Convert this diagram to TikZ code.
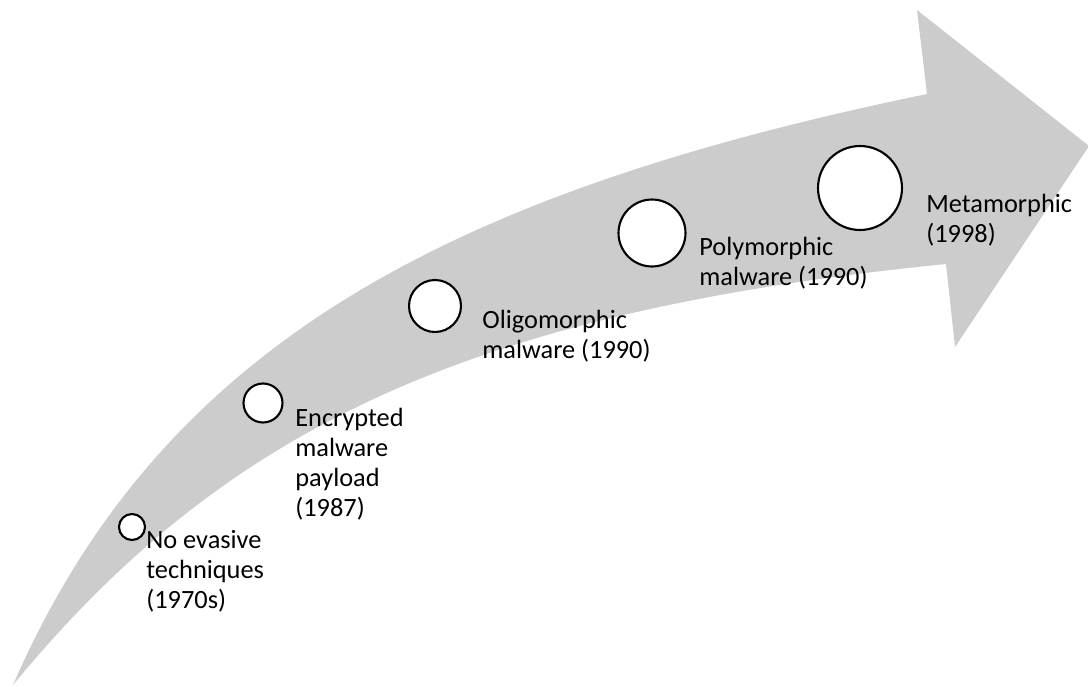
\documentclass[tikz,border=0pt]{standalone}
\usepackage{fontspec}
\setmainfont{Carlito}
\definecolor{bandgray}{RGB}{204,204,204}
\begin{document}
\begin{tikzpicture}[x=0.02cm, y=-0.02cm,
  stage/.style={circle, draw=black, line width=1.2pt, fill=white, inner sep=0pt},
  tag/.style={anchor=base west, align=left, inner sep=0pt,
              font=\fontsize{15}{17}\selectfont}]
  \useasboundingbox (0,0) rectangle (1088,686);

  % curved timeline arrow
  \fill[bandgray]
    (13,685) .. controls (161,345) and (447,193) .. (927,94)
    -- (917,10) -- (1089,146) -- (955,347) -- (946,264)
    .. controls (466,312) and (223,430) .. (13,685) -- cycle;

  % stages, growing along the arrow
  \node[stage, minimum size=0.52cm] (s1) at (132,527) {};
  \node[stage, minimum size=0.78cm] (s2) at (263,403) {};
  \node[stage, minimum size=1.04cm] (s3) at (435,306) {};
  \node[stage, minimum size=1.34cm] (s4) at (652,233) {};
  \node[stage, minimum size=1.68cm] (s5) at (860,188) {};

  % labels, placed by the baseline of their last line
  \node[tag] (t1) at (146,608) {No evasive\\techniques\\(1970s)};
  \node[tag] (t2) at (295,516) {Encrypted\\malware\\payload\\(1987)};
  \node[tag] (t3) at (482,358) {Oligomorphic\\malware (1990)};
  \node[tag] (t4) at (699,285) {Polymorphic\\malware (1990)};
  \node[tag] (t5) at (926,242) {Metamorphic\\(1998)};
\end{tikzpicture}
\end{document}
